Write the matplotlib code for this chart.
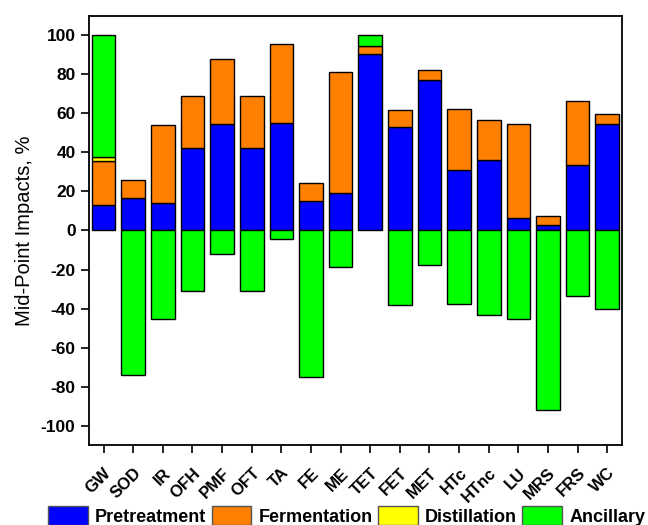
import numpy as np
import matplotlib.pyplot as plt
from matplotlib.patches import Patch

plt.rcParams['font.family'] = ['Liberation Sans', 'DejaVu Sans']

categories = ['GW', 'SOD', 'IR', 'OFH', 'PMF', 'OFT', 'TA', 'FE', 'ME',
              'TET', 'FET', 'MET', 'HTc', 'HTnc', 'LU', 'MRS', 'FRS', 'WC']

# stage contributions, % of total mid-point impact
pretreatment = [13.0, 16.4, 14.3, 42.1, 54.7, 42.1, 54.9, 15.3, 19.3,
                90.3, 52.8, 76.9, 30.9, 36.0, 6.6, 2.7, 33.6, 54.5]
fermentation = [22.6, 9.5, 39.7, 26.7, 33.0, 26.8, 40.7, 9.2, 61.8,
                4.1, 9.0, 5.2, 31.3, 20.7, 47.9, 4.8, 32.5, 5.1]
distillation = [1.9, 0, 0, 0, 0, 0, 0, 0, 0,
                0, 0, 0, 0, 0, 0, 0, 0, 0]
ancillary = [62.5, -73.9, -45.6, -30.8, -11.9, -30.8, -4.2, -75.3, -18.9,
             5.6, -38.1, -17.7, -37.6, -43.1, -45.3, -92.1, -33.7, -40.2]

colors = {'Pretreatment': '#0000ff', 'Fermentation': '#ff8000',
          'Distillation': '#ffff00', 'Ancillary': '#00ff00'}

x = np.arange(len(categories))
p = np.array(pretreatment)
f = np.array(fermentation)
d = np.array(distillation)
a = np.array(ancillary)

fig = plt.figure(figsize=(6.48, 5.25), dpi=100)
ax = fig.add_axes([0.137, 0.152, 0.823, 0.818])

bar_kw = dict(width=0.8, edgecolor='black', linewidth=1.0)
ax.bar(x, p, color=colors['Pretreatment'], **bar_kw)
ax.bar(x, f, bottom=p, color=colors['Fermentation'], **bar_kw)
dmask = d > 0
ax.bar(x[dmask], d[dmask], bottom=(p + f)[dmask], color=colors['Distillation'], **bar_kw)
pos = a > 0
ax.bar(x[pos], a[pos], bottom=(p + f + d)[pos], color=colors['Ancillary'], **bar_kw)
ax.bar(x[~pos], a[~pos], color=colors['Ancillary'], **bar_kw)

ax.set_xlim(-0.5, len(categories) - 0.5)
ax.set_ylim(-110, 110)
ax.set_yticks(np.arange(-100, 101, 20))
ax.set_yticklabels([str(v) for v in range(-100, 101, 20)], fontsize=12.5, fontweight='bold')
ax.set_xticks(x)
ax.set_xticklabels(categories, rotation=45, ha='right', rotation_mode='anchor',
                   fontsize=12, fontweight='bold')
ax.tick_params(axis='both', direction='out', length=5.5, width=1.2, pad=4)
ax.tick_params(axis='x', pad=9)
for s in ax.spines.values():
    s.set_linewidth(1.3)
ax.set_ylabel('Mid-Point Impacts, %', fontsize=14.5, labelpad=5)

handles = [Patch(facecolor=c, edgecolor='#555555', linewidth=1.0, label=k)
           for k, c in colors.items()]
fig.legend(handles=handles, loc='center', bbox_to_anchor=(0.535, 0.017), ncol=4,
           frameon=False, prop={'size': 13, 'weight': 'bold'},
           handlelength=2.2, handleheight=1.2, handletextpad=0.4,
           columnspacing=0.3, borderaxespad=0)

fig.savefig('out.png', dpi=100)
